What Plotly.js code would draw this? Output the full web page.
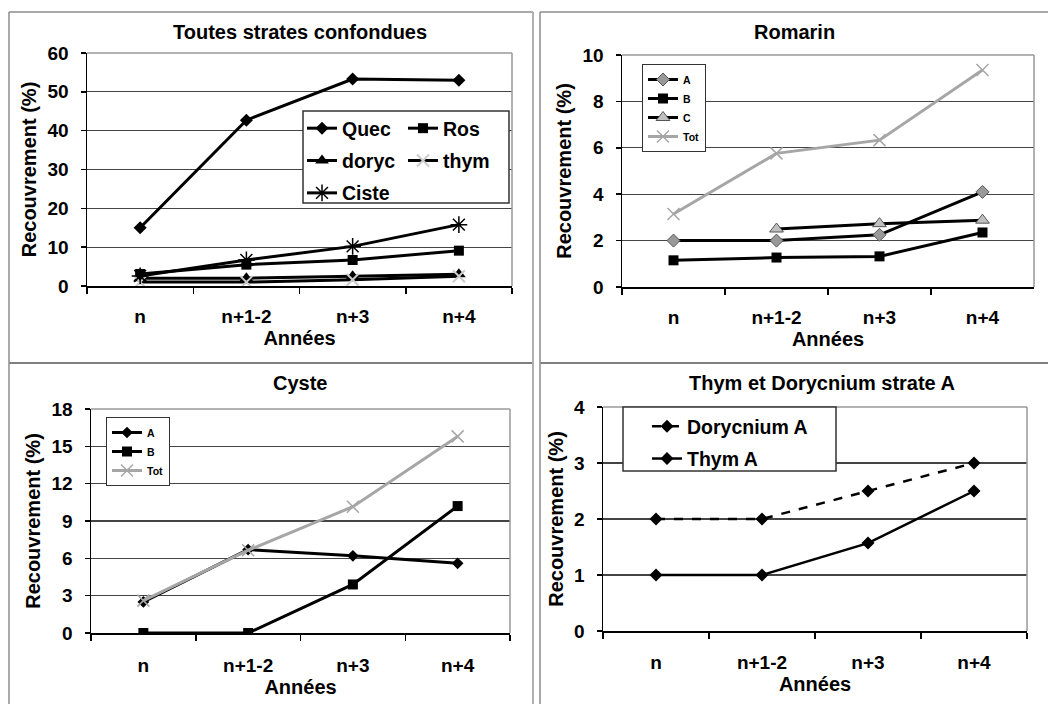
<!DOCTYPE html>
<html><head><meta charset="utf-8">
<script src="https://cdn.plot.ly/plotly-3.0.1.min.js"></script>
<style>html,body{margin:0;padding:0;background:#fff}</style>
</head><body><div id="chart" style="width:1048px;height:704px"></div>
<script>
// ---- data ----
const categories = ['n', 'n+1-2', 'n+3', 'n+4'];
// Toutes strates confondues
const quec  = [15, 42.7, 53.3, 53];
const ros   = [3.1, 5.5, 6.7, 9.1];
const doryc = [2, 2, 2.5, 3];
const thym  = [1, 1, 1.6, 2.5];
const ciste = [2.6, 6.7, 10.2, 15.8];
// Romarin
const romA   = [2, 2, 2.25, 4.1];
const romB   = [1.15, 1.27, 1.32, 2.35];
const romC   = [null, 2.5, 2.73, 2.88];
const romTot = [3.15, 5.76, 6.33, 9.35];
// Cyste
const cysA   = [2.5, 6.7, 6.2, 5.6];
const cysB   = [0, 0, 3.9, 10.2];
const cysTot = [2.6, 6.65, 10.15, 15.8];
// Thym et Dorycnium strate A
const dorycA = [2, 2, 2.5, 3];
const thymA  = [1, 1, 1.57, 2.5];

const titles = ['Toutes strates confondues', 'Romarin', 'Cyste', 'Thym et Dorycnium strate A'];
const yTitle = 'Recouvrement (%)';
const xTitle = 'Années';

// ---- layout helpers ----
const W = 1048, H = 704;
const px = v => v / W, py = v => 1 - v / H;
const FONT = 'Arial, "Liberation Sans", sans-serif';
const bold = (size, color) => ({family: FONT, size: size, weight: 'bold', color: color || '#000'});

function xAx(l, r, anchor, st) {
  return {domain: [px(l), px(r)], anchor: anchor, type: 'category',
    categoryorder: 'array', categoryarray: categories, range: [-0.5, 3.5],
    showline: true, linecolor: '#000', linewidth: 1.5,
    ticks: 'outside', tickson: 'boundaries', ticklen: 6, tickwidth: 1.5, tickcolor: '#000',
    showgrid: false, zeroline: false, tickfont: bold(19), ticklabelstandoff: st,
    title: {text: xTitle, font: bold(20), standoff: 3}, fixedrange: true};
}
function yAx(t, b, anchor, max, dtick) {
  return {domain: [py(b), py(t)], anchor: anchor, range: [0, max], dtick: dtick, tick0: 0,
    showline: true, linecolor: '#000', linewidth: 1.5,
    ticks: 'outside', ticklen: 5, tickwidth: 1.5, tickcolor: '#000',
    showgrid: true, gridcolor: '#444', gridwidth: 1.2, zeroline: false,
    tickfont: bold(19), ticklabelstandoff: 8,
    title: {text: yTitle, font: bold(20), standoff: 5}, fixedrange: true};
}
function tr(name, y, xa, ya, lg, opts) {
  return Object.assign({type: 'scatter', mode: 'lines+markers', name: name, x: categories, y: y,
    xaxis: xa, yaxis: ya, legend: lg, legendgroup: name + xa, connectgaps: false}, opts);
}
const blk = (w) => ({color: '#000', width: w});

const data = [
  // panel 1
  tr('Quec', quec, 'x', 'y', 'legend', {line: blk(3), marker: {symbol: 'diamond', size: 10, color: '#000'}}),
  tr('Ros', ros, 'x', 'y', 'legend5', {line: blk(3), marker: {symbol: 'square', size: 10, color: '#000'}}),
  tr('doryc', doryc, 'x', 'y', 'legend', {line: blk(3), marker: {symbol: 'triangle-up', size: 12, color: '#000'}}),
  tr('thym', thym, 'x', 'y', 'legend5', {line: blk(3), marker: {symbol: 'x-thin-open', size: 12, color: '#ccc', line: {color: '#ccc', width: 2}}}),
  tr('Ciste', ciste, 'x', 'y', 'legend', {line: blk(3), marker: {symbol: 'asterisk-open', size: 14, color: '#000', line: {color: '#000', width: 1.5}}}),
  // panel 2
  tr('A', romA, 'x2', 'y2', 'legend2', {line: blk(3), marker: {symbol: 'diamond', size: 10, color: '#999', line: {color: '#555', width: 1}}}),
  tr('B', romB, 'x2', 'y2', 'legend2', {line: blk(3), marker: {symbol: 'square', size: 10, color: '#000'}}),
  tr('C', romC, 'x2', 'y2', 'legend2', {line: blk(3), marker: {symbol: 'triangle-up', size: 12, color: '#c0c0c0', line: {color: '#555', width: 1}}}),
  tr('Tot', romTot, 'x2', 'y2', 'legend2', {line: {color: '#a6a6a6', width: 3}, marker: {symbol: 'x-thin-open', size: 12, color: '#a6a6a6', line: {color: '#a6a6a6', width: 1.5}}}),
  // panel 3
  tr('A', cysA, 'x3', 'y3', 'legend3', {line: blk(3), marker: {symbol: 'diamond', size: 9, color: '#000'}}),
  tr('B', cysB, 'x3', 'y3', 'legend3', {line: blk(3), marker: {symbol: 'square', size: 10, color: '#000'}}),
  tr('Tot', cysTot, 'x3', 'y3', 'legend3', {line: {color: '#a6a6a6', width: 3}, marker: {symbol: 'x-thin-open', size: 12, color: '#a6a6a6', line: {color: '#a6a6a6', width: 1.5}}}),
  // panel 4
  tr('Dorycnium A', dorycA, 'x4', 'y4', 'legend4', {line: {color: '#000', width: 2.5, dash: 'dash'}, marker: {symbol: 'diamond', size: 10, color: '#000'}}),
  tr('Thym A', thymA, 'x4', 'y4', 'legend4', {line: blk(2.5), marker: {symbol: 'diamond', size: 10, color: '#000'}})
];

const lgBase = (x, y, size, extra) => Object.assign({x: px(x), y: py(y), xanchor: 'left', yanchor: 'top',
  font: bold(size), bgcolor: 'rgba(0,0,0,0)', borderwidth: 0, traceorder: 'grouped', tracegroupgap: 4,
  itemclick: false, itemdoubleclick: false}, extra);

// shapes: panel frames, plot-area top/right borders, legend boxes
const shapes = [];
const pline = (x0, y0, x1, y1, color, w) => shapes.push({type: 'line', xref: 'paper', yref: 'paper',
  x0: px(x0), y0: py(y0), x1: px(x1), y1: py(y1), line: {color: color, width: w}, layer: 'above'});
pline(9, 12, 533, 12, '#8c8c8c', 1.5);
pline(540, 12, 1048, 12, '#8c8c8c', 1.5);
pline(9, 363, 533, 363, '#555', 1.5);
pline(540, 363, 1048, 363, '#555', 1.5);
pline(9, 12, 9, 704, '#8c8c8c', 1.5);
pline(533, 12, 533, 704, '#b0b0b0', 2);
pline(540, 12, 540, 704, '#8c8c8c', 1.5);
['', '2', '3', '4'].forEach(s => {
  shapes.push({type: 'line', xref: 'x' + s + ' domain', yref: 'y' + s + ' domain', x0: 0, x1: 1, y0: 1, y1: 1,
    line: {color: '#999', width: 1.5}, layer: 'above'});
  shapes.push({type: 'line', xref: 'x' + s + ' domain', yref: 'y' + s + ' domain', x0: 1, x1: 1, y0: 0, y1: 1,
    line: {color: '#999', width: 1.5}, layer: 'above'});
});
const pbox = (x0, y0, x1, y1) => shapes.push({type: 'rect', xref: 'paper', yref: 'paper',
  x0: px(x0), y0: py(y0), x1: px(x1), y1: py(y1), fillcolor: '#fff', line: {color: '#333', width: 1.5}, layer: 'above'});
pbox(303, 111, 509, 203);
pbox(623, 407, 836, 471);

const ann = (text, x, y) => ({text: text, x: px(x), y: py(y), xref: 'paper', yref: 'paper',
  xanchor: 'center', yanchor: 'middle', showarrow: false, font: bold(20)});

const layout = {
  width: W, height: H, margin: {l: 0, r: 0, t: 0, b: 0},
  paper_bgcolor: '#fff', plot_bgcolor: '#fff', font: {family: FONT, color: '#000'},
  xaxis: xAx(87, 512, 'y', 13), yaxis: yAx(53, 286, 'x', 60, 10),
  xaxis2: xAx(622, 1034, 'y2', 13), yaxis2: yAx(55, 287, 'x2', 10, 2),
  xaxis3: xAx(91, 510, 'y3', 15), yaxis3: yAx(409, 633, 'x3', 18, 3),
  xaxis4: xAx(603, 1027, 'y4', 14), yaxis4: yAx(407, 631, 'x4', 4, 1),
  legend: lgBase(302, 109, 19.5),
  legend5: lgBase(403, 109, 19.5),
  legend2: lgBase(642, 64, 10.5, {bgcolor: '#fff', bordercolor: '#333', borderwidth: 1, tracegroupgap: 0}),
  legend3: lgBase(106, 417, 10.5, {bgcolor: '#fff', bordercolor: '#333', borderwidth: 1, tracegroupgap: 0}),
  legend4: lgBase(647, 407, 19.5),
  shapes: shapes,
  annotations: [ann(titles[0], 300, 32), ann(titles[1], 795, 32), ann(titles[2], 300, 383), ann(titles[3], 822, 383)],
  showlegend: true
};

Plotly.newPlot('chart', data, layout, {displayModeBar: false, staticPlot: true});
</script>
</body></html>
